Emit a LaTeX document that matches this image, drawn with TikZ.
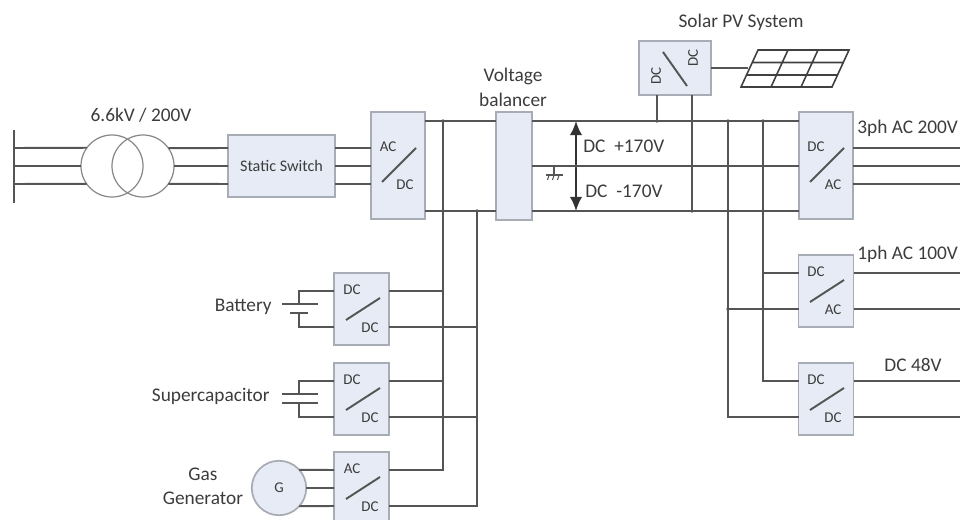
\documentclass[tikz,border=0pt]{standalone}
\usepackage{fontspec}
\setmainfont{Carlito}
\usetikzlibrary{arrows.meta}
\definecolor{wirecol}{HTML}{555555}
\definecolor{boxfill}{HTML}{E6EBF5}
\definecolor{boxline}{HTML}{A8ADB5}
\definecolor{txtcol}{HTML}{3C3C3C}
\tikzset{
  wire/.style={line width=1.1pt,color=wirecol},
  conv/.style={draw=boxline,fill=boxfill,line width=1pt,inner sep=0pt,outer sep=0pt},
  lbl/.style={text=txtcol,font=\fontsize{11}{13}\selectfont,inner sep=0pt},
  tiny/.style={text=txtcol,font=\fontsize{8.5}{10}\selectfont,inner sep=0pt},
  coil/.style={draw=wirecol!70,line width=0.7pt,circle,minimum size=35.3pt,inner sep=0pt,outer sep=0pt},
  junc/.style={circle,fill=wirecol,inner sep=0pt,minimum size=2.2pt},
}
\begin{document}
\begin{tikzpicture}[x=0.02cm,y=-0.02cm]
\clip (0,0) rectangle (960,520);
\coordinate (p1) at (0,148);
\coordinate (p2) at (0,166);
\coordinate (p3) at (0,184);
\coordinate (top) at (0,121);
\coordinate (bot) at (0,211);
% left feeder
\node[coil] (tl) at (112,166) {};
\node[coil] (tr) at (143,166) {};
\node[lbl] (trlabel) at (141,115) {6.6kV / 200V};
\coordinate (busa) at (14,130);
\coordinate (busb) at (14,203);
\draw[wire] (busa) -- (busb);
\node[conv,minimum width=60.8pt,minimum height=35.3pt] (sw) at (281.5,166) {};
\node[tiny,font=\fontsize{9.2}{11}\selectfont] (swlabel) at (281.5,166) {Static Switch};
\node[conv,minimum width=30.7pt,minimum height=60.8pt] (acdc) at (398,165.5) {};
\node[tiny] (acdca) at (388,147) {AC};
\node[tiny] (acdcb) at (405,185) {DC};
\coordinate (acdcs) at (382,182);
\coordinate (acdce) at (416,148);
\draw[wire] (acdcs) -- (acdce);
\draw[wire] (busa |- p1) -- (tl.144.5) (busa |- p2) -- (tl.180) (busa |- p3) -- (tl.215.5);
\draw[wire] (tr.35.5) -- (sw.west |- p1) (tr.0) -- (sw.west |- p2) (tr.-35.5) -- (sw.west |- p3);
\draw[wire] (sw.east |- p1) -- (acdc.west |- p1) (sw.east |- p2) -- (acdc.west |- p2) (sw.east |- p3) -- (acdc.west |- p3);
% balancer
\node[conv,minimum width=20.5pt,minimum height=61.4pt] (bal) at (514,166) {};
\node[lbl] (balb) at (513,76) {Voltage};
\node[lbl] (bala) at (513,100) {balancer};
% right side
\node[conv,minimum width=30.7pt,minimum height=60.8pt] (dcac) at (826,165.5) {};
\node[tiny] (dcaca) at (816,147) {DC};
\node[tiny] (dcacb) at (833,185) {AC};
\coordinate (dcacs) at (810,182);
\coordinate (dcace) at (844,148);
\draw[wire] (dcacs) -- (dcace);
\coordinate (endr) at (960,0);
\draw[wire] (acdc.east |- top) -- (bal.west |- top) (bal.east |- top) -- (dcac.west |- top);
\draw[wire] (acdc.east |- bot) -- (bal.west |- bot) (bal.east |- bot) -- (dcac.west |- bot);
\draw[wire] (bal.east |- p2) -- (dcac.west |- p2);
\draw[wire] (dcac.east |- p1) -- (endr |- p1) (dcac.east |- p2) -- (endr |- p2) (dcac.east |- p3) -- (endr |- p3);
\node[lbl,anchor=west] (ph3) at (857,128) {3ph AC 200V};
\node[lbl,anchor=west] (ph1) at (857,254) {1ph AC 100V};
\node[lbl] (dc48) at (913,365) {DC 48V};
% bus arrow and ground
\coordinate (arra) at (576,121);
\coordinate (arrb) at (576,211);
\draw[line width=1.1pt,black!80,{Latex[length=8pt,width=7pt]}-{Latex[length=8pt,width=7pt]}] (arra) -- (arrb);
\node[lbl,anchor=west] (dcp) at (583,146) {DC~~+170V};
\node[lbl,anchor=west] (dcm) at (585,191) {DC~~-170V};
\coordinate (gnda) at (554,166);
\coordinate (gndb) at (554,175);
\coordinate (gndl) at (546,175);
\coordinate (gndr) at (563,175);
\draw[wire,line width=0.6pt] (gnda) -- (gndb) (gndl) -- (gndr);
\foreach \xx in {549,554,559}
  \draw[wire,line width=0.6pt] (\xx,175) -- (\xx-1.5,180);
% solar
\node[conv,minimum width=41pt,minimum height=30.7pt] (pv) at (675,68) {};
\node[lbl] (pvlabel) at (741,22) {Solar PV System};
\node[tiny,rotate=90] (pva) at (656,76) {DC};
\node[tiny,rotate=90] (pvb) at (693,58) {DC};
\coordinate (pvs) at (663,52);
\coordinate (pve) at (687,86);
\draw[wire] (pvs) -- (pve);
\draw[wire] (pv.south -| 657,0) -- (657,0 |- top);
\draw[wire] (pv.south -| 692,0) -- (692,0 |- bot);
\coordinate (pna) at (758,50);
\coordinate (pnb) at (849,50);
\coordinate (pnc) at (832,87);
\coordinate (pnd) at (741,87);
\draw[line width=0.9pt,black!75] (pna) -- (pnb) -- (pnc) -- (pnd) -- cycle
  (752.5,62.5) -- (843.5,62.5) (747,75) -- (838,75)
  (788,50) -- (771,87) (818,50) -- (801,87);
\coordinate (pnw) at (748,68);
\draw[wire] (pv.east |- pnw) -- (pnw);
% small converters
\foreach \nm/\yy/\top/\low in {bat/309/DC/DC,cap/399/DC/DC,gen/488/AC/DC}{
  \node[conv,minimum width=31.3pt,minimum height=41pt] (\nm) at (361.5,\yy) {};
  \node[tiny] (\nm a) at (352,\yy-19) {\top};
  \node[tiny] (\nm b) at (370,\yy+19) {\low};
  \coordinate (\nm s) at (346,\yy+11);
  \coordinate (\nm e) at (380,\yy-11);
  \draw[wire] (\nm s) -- (\nm e);
  \coordinate (\nm u) at (0,\yy-18);
  \coordinate (\nm d) at (0,\yy+18);
}
\coordinate (vbusa) at (443,0);
\coordinate (vbusb) at (477,0);
\draw[wire] (vbusa |- top) -- (vbusa |- genu) -- (gen.east |- genu);
\draw[wire] (vbusb |- bot) -- (vbusb |- gend) -- (gen.east |- gend);
\draw[wire] (bat.east |- batu) -- (vbusa |- batu) (bat.east |- batd) -- (vbusb |- batd);
\draw[wire] (cap.east |- capu) -- (vbusa |- capu) (cap.east |- capd) -- (vbusb |- capd);
% battery
\node[lbl,anchor=east] (batlabel) at (272,307) {Battery};
\coordinate (batx) at (299,0);
\draw[wire] (bat.west |- batu) -- (batx |- batu) -- (299,304);
\draw[wire] (bat.west |- batd) -- (batx |- batd) -- (299,313);
\draw[wire] (282,304) -- (318,304) (290,313) -- (308,313);
% supercapacitor
\node[lbl,anchor=east] (caplabel) at (270,396) {Supercapacitor};
\draw[wire] (cap.west |- capu) -- (batx |- capu) -- (299,394);
\draw[wire] (cap.west |- capd) -- (batx |- capd) -- (299,403);
\draw[wire] (282,394) -- (318,394) (282,403) -- (318,403);
% generator
\node[circle,draw=boxline,fill=boxfill,line width=1pt,minimum size=31pt,inner sep=0pt,outer sep=0pt] (gn) at (279,488) {};
\node[tiny] (gnlabel) at (279,488) {G};
\node[lbl] (gasa) at (203,474) {Gas};
\node[lbl] (gasb) at (203,498) {Generator};
\draw[wire] (gn.42) -- (gen.west |- genu) (gn.0) -- (gen.west |- 0,488) (gn.-42) -- (gen.west |- gend);
% load side
\coordinate (vloada) at (728,0);
\coordinate (vloadb) at (763,0);
\node[conv,minimum width=31.3pt,minimum height=41pt] (one) at (826,291) {};
\node[tiny] (onea) at (816,272) {DC};
\node[tiny] (oneb) at (833,310) {AC};
\coordinate (ones) at (810,302);
\coordinate (onee) at (844,280);
\draw[wire] (ones) -- (onee);
\node[conv,minimum width=31.3pt,minimum height=41pt] (dcl) at (826,399) {};
\node[tiny] (dcla) at (816,380) {DC};
\node[tiny] (dclb) at (833,418) {DC};
\coordinate (dcls) at (810,410);
\coordinate (dcle) at (844,388);
\draw[wire] (dcls) -- (dcle);
\draw[wire] (vloadb |- top) -- (vloadb |- 0,381) -- (dcl.west |- 0,381);
\draw[wire] (vloada |- top) -- (vloada |- 0,417) -- (dcl.west |- 0,417);
\draw[wire] (vloadb |- 0,273) -- (one.west |- 0,273);
\draw[wire] (vloada |- 0,309) -- (one.west |- 0,309);
\draw[wire] (one.east |- 0,273) -- (endr |- 0,273) (one.east |- 0,309) -- (endr |- 0,309);
\draw[wire] (dcl.east |- 0,381) -- (endr |- 0,381) (dcl.east |- 0,417) -- (endr |- 0,417);
% crossings
\foreach \jx/\jy in {443/121,443/211,477/211,657/121,692/121,692/166,692/211,728/121,728/166,728/211,763/121,763/166,763/211,576/166,763/309,443/327,443/417,728/309}
  \node[junc] (j\jx-\jy) at (\jx,\jy) {};
\end{tikzpicture}
\end{document}
